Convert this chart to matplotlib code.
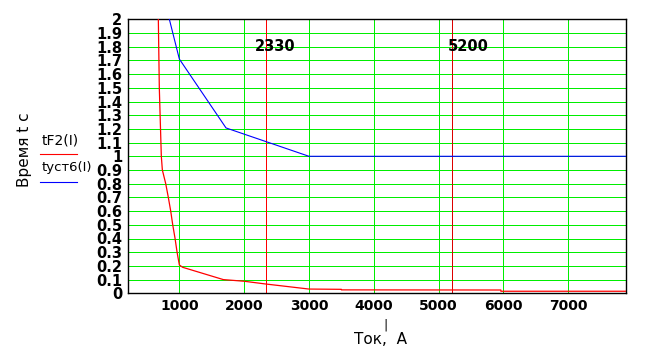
import matplotlib
matplotlib.use("Agg")
import matplotlib.pyplot as plt

# Data
tf2_I = [676, 691, 722, 738, 790, 830, 867, 898, 934, 965, 1000, 1050, 1679, 2000, 2330, 3000, 3500, 3500, 5960, 5960, 7900]
tf2_t = [2.0, 1.5, 1.0, 0.9, 0.8, 0.7, 0.6, 0.5, 0.4, 0.3, 0.207, 0.19, 0.10, 0.088, 0.068, 0.031, 0.029, 0.025, 0.024, 0.015, 0.015]
tust_I = [846, 1000, 1720, 3000, 7900]
tust_t = [2.0, 1.71, 1.207, 1.0, 1.0]
marks = [2330, 5200]
mark_labels = ["2330", "5200"]
xticks = [1000, 2000, 3000, 4000, 5000, 6000, 7000]
yticks = [round(0.1 * i, 1) for i in range(21)]
ytick_labels = ["0"] + [f"{v:.1f}" for v in yticks[1:10]] + ["1"] + [f"{v:.1f}" for v in yticks[11:20]] + ["2"]

fig = plt.figure(figsize=(6.67, 3.56), dpi=100)
ax = fig.add_axes([128/667, 1 - 293.3/356, (626.3-128)/667, (293.3-19.3)/356])
xmin, xmax = 208, 7895
ax.set_xlim(xmin, xmax)
ax.set_ylim(0, 2)

for x in xticks:
    ax.axvline(x, color="#00ee00", lw=0.72, zorder=1, snap=True)
for y in yticks[1:-1]:
    ax.axhline(y, color="#00ee00", lw=0.72, zorder=1, snap=True)

ax.axvline(marks[0], color="#ff0000", lw=0.72, zorder=2, snap=True)
ax.axvline(marks[1], color="#dd0000", lw=0.72, zorder=2, snap=True)
ax.text(marks[0] + 150, 1.80, mark_labels[0], ha="center", va="center", fontsize=10.5, fontweight="bold", zorder=5)
ax.text(marks[1] + 250, 1.80, mark_labels[1], ha="center", va="center", fontsize=10.5, fontweight="bold", zorder=5)

ax.plot(tf2_I, tf2_t, color="#ff0000", lw=0.9, zorder=3)
ax.plot(tust_I, tust_t, color="#0000ff", lw=0.8, zorder=3)

ax.set_xticks(xticks)
ax.set_xticklabels([str(v) for v in xticks], fontsize=10, fontweight="bold")
ax.set_yticks(yticks)
ax.set_yticklabels(ytick_labels, fontsize=10.5, fontweight="bold")
ax.tick_params(length=0, pad=4)
for s in ax.spines.values():
    s.set_color("black")
    s.set_linewidth(1.0)

# axis labels
fig.text(385/667, 1 - 325/356, "|", ha="center", va="center", fontsize=9)
fig.text(381/667, 1 - 340/356, "Ток,  А", ha="center", va="center", fontsize=11)
fig.text(25/667, 1 - 150/356, "Время t c", ha="center", va="center", rotation=90, fontsize=11)

# legend
fig.text(42/667, 1 - 140/356, "tF2(I)", ha="left", va="center", fontsize=10)
fig.add_artist(plt.Line2D([40/667, 77/667], [1 - 154/356, 1 - 154/356], color="#ff0000", lw=0.8))
fig.text(42/667, 1 - 167/356, "tуст6(I)", ha="left", va="center", fontsize=9.5)
fig.add_artist(plt.Line2D([40/667, 77/667], [1 - 182/356, 1 - 182/356], color="#0000ff", lw=0.8))

fig.savefig("out.png", dpi=100)
